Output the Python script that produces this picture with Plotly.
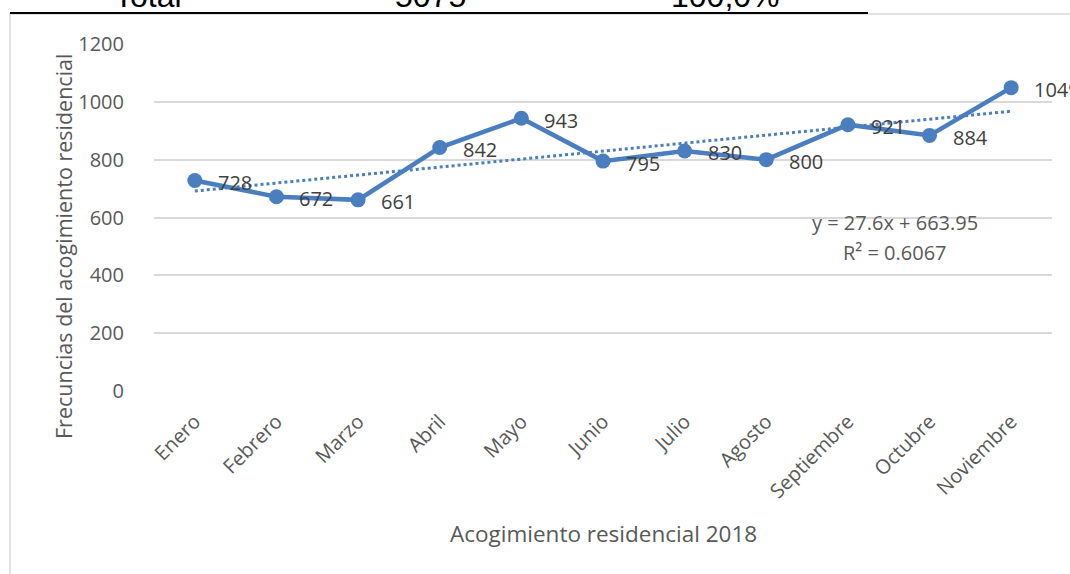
import numpy as np
import plotly.graph_objects as go

months = ["Enero", "Febrero", "Marzo", "Abril", "Mayo", "Junio", "Julio",
          "Agosto", "Septiembre", "Octubre", "Noviembre"]
values = [728, 672, 661, 842, 943, 795, 830, 800, 921, 884, 1049]
y_ticks = [0, 200, 400, 600, 800, 1000, 1200]
header_texts = ["Total", "5075", "100,0%"]

BLUE = "#4a7ebf"
GREY = "#595959"
FONT = "Open Sans"

W, H = 1070, 574
ML, MR, MT, MB = 154, 1070 - 1052, 44, 574 - 391
PW = W - ML - MR
PH = H - MT - MB


def px_x(px):
    return (px - ML) / PW


def px_y(py):
    return (H - MB - py) / PH


# linear trend (least squares) over positions 1..n
xs = np.arange(1, len(values) + 1)
slope, intercept = np.polyfit(xs, values, 1)
trend = slope * xs + intercept
ss_res = np.sum((np.array(values) - trend) ** 2)
ss_tot = np.sum((np.array(values) - np.mean(values)) ** 2)
r2 = 1 - ss_res / ss_tot

fig = go.Figure()
fig.add_trace(go.Scatter(
    x=months, y=trend, mode="lines",
    line=dict(color=BLUE, width=3, dash="dot"),
    hoverinfo="skip", showlegend=False,
))
fig.add_trace(go.Scatter(
    x=months, y=values, mode="lines+markers",
    line=dict(color=BLUE, width=4.5),
    marker=dict(color=BLUE, size=15),
    showlegend=False,
))

annotations = []
for m, v in zip(months, values):
    annotations.append(dict(
        x=m, y=v, xref="x", yref="y", text=str(v), showarrow=False,
        xanchor="left", yanchor="middle", xshift=21, yshift=-2,
        font=dict(family=FONT, size=20, color="#404040"),
    ))

annotations.append(dict(
    x=px_x(895), y=px_y(223), xref="paper", yref="paper",
    text=f"y = {slope:.1f}x + {intercept:.2f}", showarrow=False,
    xanchor="center", yanchor="middle",
    font=dict(family=FONT, size=20, color=GREY),
))
annotations.append(dict(
    x=px_x(895), y=px_y(252), xref="paper", yref="paper",
    text=f"R² = {r2:.4f}", showarrow=False,
    xanchor="center", yanchor="middle",
    font=dict(family=FONT, size=20, color=GREY),
))
# axis titles
annotations.append(dict(
    x=px_x(63), y=px_y(247), xref="paper", yref="paper",
    text="Frecuncias del acogimiento residencial", showarrow=False,
    textangle=-90, xanchor="center", yanchor="middle",
    font=dict(family=FONT, size=21.5, color=GREY),
))
annotations.append(dict(
    x=px_x(603), y=px_y(533), xref="paper", yref="paper",
    text="Acogimiento residencial 2018", showarrow=False,
    xanchor="center", yanchor="middle",
    font=dict(family=FONT, size=22.5, color=GREY),
))
# clipped header text from the page above the chart
for txt, cx in zip(header_texts, [148, 430, 725]):
    annotations.append(dict(
        x=px_x(cx), y=px_y(-4), xref="paper", yref="paper",
        text=txt, showarrow=False, xanchor="center", yanchor="middle",
        font=dict(family="Liberation Sans", size=32, color="#000000"),
    ))

shapes = [
    dict(type="rect", xref="paper", yref="paper",
         x0=px_x(10), x1=px_x(1100), y0=px_y(620), y1=px_y(14),
         line=dict(color="#d9d9d9", width=1.5), layer="below"),
    dict(type="line", xref="paper", yref="paper",
         x0=px_x(10), x1=px_x(868), y0=px_y(13), y1=px_y(13),
         line=dict(color="#000000", width=2)),
]

fig.update_layout(
    width=W, height=H,
    margin=dict(l=ML, r=MR, t=MT, b=MB),
    paper_bgcolor="white", plot_bgcolor="white",
    annotations=annotations, shapes=shapes,
    font=dict(family=FONT, color=GREY),
)
fig.update_xaxes(
    type="category", tickangle=-45, showgrid=False, zeroline=False,
    showline=False, ticks="", ticklabelstandoff=14,
    tickfont=dict(family=FONT, size=20, color=GREY),
    range=[-0.5, len(months) - 0.5],
)
fig.update_yaxes(
    range=[0, 1200], tickvals=y_ticks, showgrid=True,
    gridcolor="#d9d9d9", gridwidth=1.5, zeroline=False, showline=False,
    ticks="", ticklabelstandoff=29,
    tickfont=dict(family=FONT, size=20, color=GREY),
)

fig.write_html(
    "out.html",
    config={"displayModeBar": False},
    post_script="document.body.style.margin='0';document.body.style.overflow='hidden';",
)
